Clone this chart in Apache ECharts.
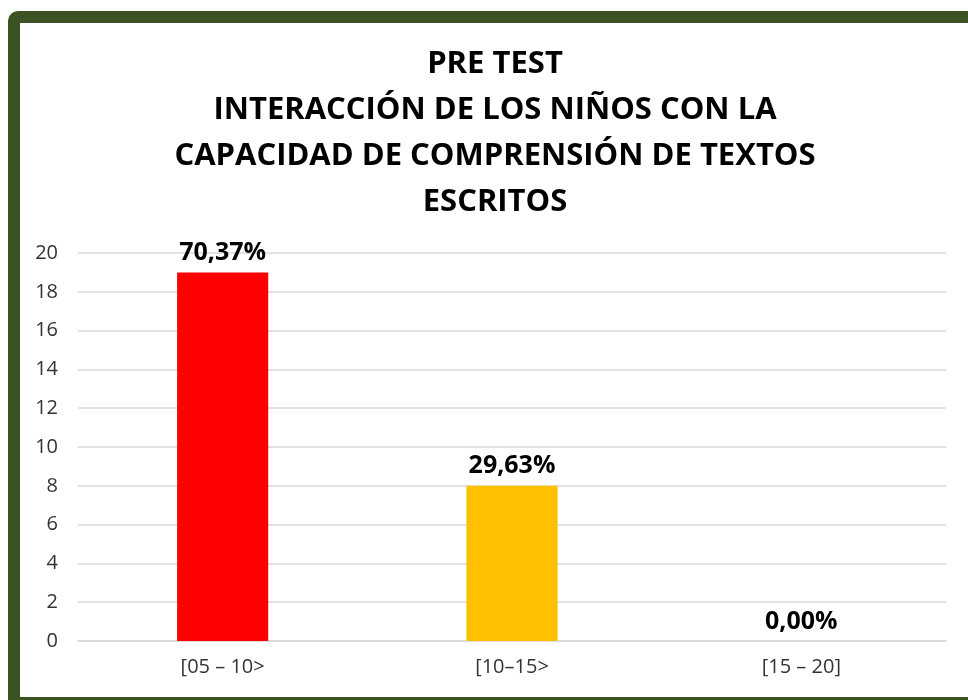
<!DOCTYPE html>
<html>
<head>
<meta charset="utf-8">
<script src="https://cdn.jsdelivr.net/npm/echarts@6/dist/echarts.min.js"></script>
<style>
html,body{margin:0;padding:0;background:#fff;}
#chart{width:968px;height:700px;}
</style>
</head>
<body>
<div id="chart"></div>
<script>
const categories = ['[05 – 10>', '[10–15>', '[15 – 20]'];
const values = [19, 8, 0];
const percentLabels = ['70,37%', '29,63%', '0,00%'];
const barColors = ['#FF0000', '#FFC000', '#4472C4'];
const titleLines = ['PRE TEST', 'INTERACCIÓN DE LOS NIÑOS CON LA', 'CAPACIDAD DE COMPRENSIÓN DE TEXTOS', 'ESCRITOS'];

const chart = echarts.init(document.getElementById('chart'));
const font = '"Open Sans", "Liberation Sans", sans-serif';
chart.setOption({
  animation: false,
  backgroundColor: '#fff',
  title: {
    text: titleLines.join('\n'),
    left: 490,
    textAlign: 'center',
    top: 36,
    textStyle: { fontFamily: font, fontSize: 31, fontWeight: 'bold', color: '#000', lineHeight: 46 }
  },
  graphic: [{
    type: 'rect',
    shape: { x: 14, y: 17, width: 1000, height: 686, r: 4 },
    style: { fill: 'none', stroke: '#3B5323', lineWidth: 12 },
    silent: true
  }],
  grid: { left: 78, right: 22, top: 253, bottom: 59 },
  xAxis: {
    type: 'category',
    data: categories,
    axisLine: { lineStyle: { color: '#D9D9D9', width: 1.5 } },
    axisTick: { show: false },
    axisLabel: { fontFamily: font, fontSize: 20, color: '#333333', margin: 16 }
  },
  yAxis: {
    type: 'value',
    min: 0, max: 20, interval: 2,
    axisLine: { show: false },
    axisTick: { show: false },
    splitLine: { lineStyle: { color: '#D9D9D9', width: 1.5 } },
    axisLabel: { fontFamily: font, fontSize: 20, color: '#333333', margin: 20 }
  },
  series: [{
    type: 'bar',
    barWidth: '31.5%',
    data: values.map((v, i) => ({ value: v, itemStyle: { color: barColors[i] } })),
    label: {
      show: true,
      position: 'top',
      distance: 7,
      fontFamily: font,
      fontSize: 25,
      fontWeight: 'bold',
      color: '#000',
      formatter: p => percentLabels[p.dataIndex]
    }
  }]
});
</script>
</body>
</html>
